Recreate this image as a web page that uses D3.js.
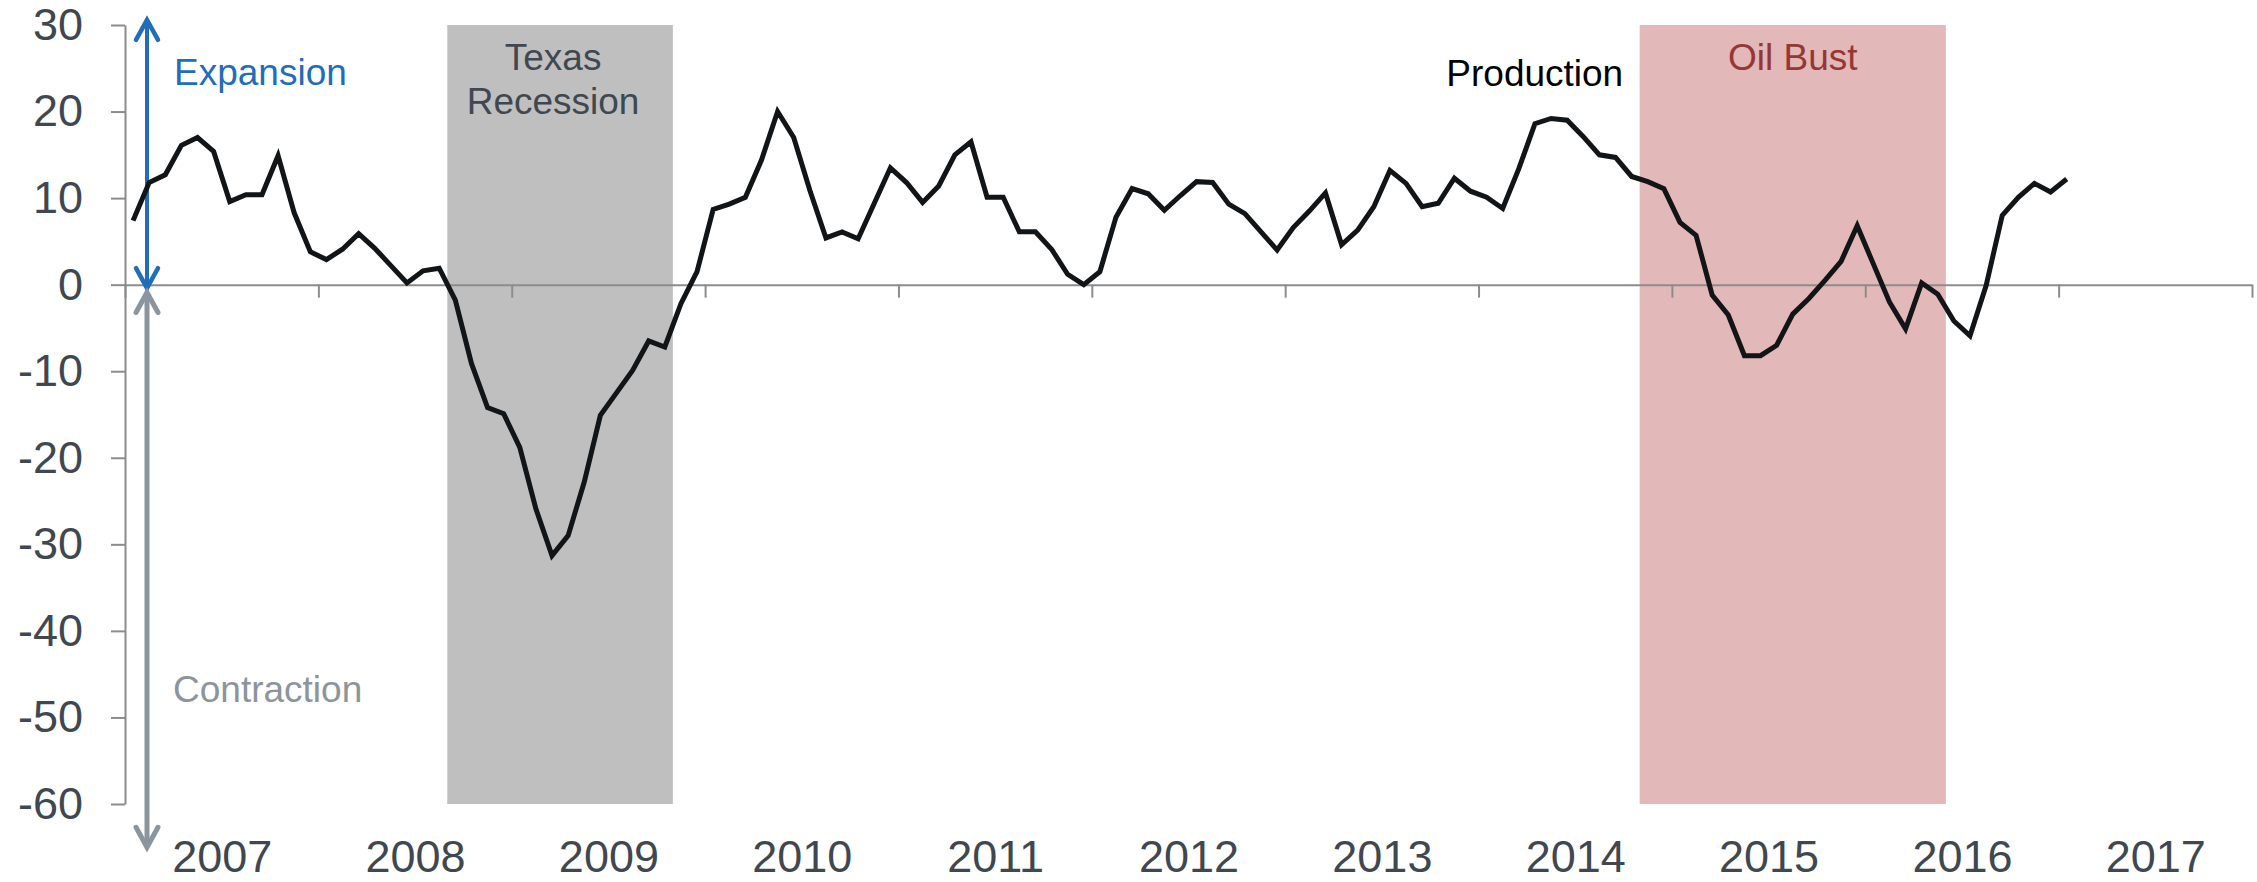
<!DOCTYPE html>
<html>
<head>
<meta charset="utf-8">
<script src="https://d3js.org/d3.v7.min.js"></script>
<style>
  body { margin: 0; background: #fff; }
  svg { display: block; font-family: "Liberation Sans", Arial, sans-serif; }
</style>
</head>
<body>
<div id="chart-container"></div>
<script>
const width = 2257;
const height = 882;
const margin = { top: 25, left: 125, right: 5, bottom: 78 };

// monthly values, Jan 2007 .. Jan 2017
const production = [
  7.4, 11.8, 12.7, 16.1, 17.0, 15.4, 9.6, 10.4, 10.4, 14.9, 8.3, 3.8,
  2.9, 4.1, 5.9, 4.2, 2.2, 0.2, 1.6, 1.9, -1.8, -9.1, -14.2, -14.9,
  -18.8, -25.9, -31.3, -29.0, -22.8, -15.1, -12.5, -9.9, -6.5, -7.2, -2.2, 1.5,
  8.7, 9.3, 10.1, 14.4, 20.0, 17.0, 10.9, 5.4, 6.1, 5.3, 9.4, 13.5,
  11.8, 9.5, 11.4, 15.0, 16.5, 10.1, 10.1, 6.1, 6.1, 4.1, 1.2, 0.0,
  1.5, 7.8, 11.1, 10.5, 8.6, 10.3, 11.9, 11.8, 9.3, 8.2, 6.1, 4.0,
  6.6, 8.5, 10.6, 4.6, 6.3, 9.0, 13.2, 11.7, 9.0, 9.4, 12.3, 10.8,
  10.1, 8.8, 13.4, 18.6, 19.2, 19.0, 17.1, 15.0, 14.7, 12.5, 11.9, 11.1,
  7.2, 5.7, -1.2, -3.5, -8.2, -8.2, -7.0, -3.4, -1.6, 0.5, 2.7, 6.8,
  2.4, -2.0, -5.1, 0.2, -1.1, -4.2, -5.9, -0.1, 8.0, 10.1, 11.7, 10.7,
  12.2
];
const years = [2007, 2008, 2009, 2010, 2011, 2012, 2013, 2014, 2015, 2016, 2017];
const yTicks = [30, 20, 10, 0, -10, -20, -30, -40, -50, -60];

// shaded periods, in months since Jan 2007
const periodNames = [["Texas", "Recession"], ["Oil Bust"]];
const periodStart = [20, 94];
const periodEnd = [34, 113];
const periodFill = ["#bfbfbf", "#e2b8b8"];
const periodText = ["#3f4850", "#953735"];

const data = production.map((v, i) => ({ m: i + 0.5, v: v }));

const svg = d3.select("#chart-container").append("svg")
  .attr("width", width)
  .attr("height", height);

const x = d3.scaleLinear()
  .domain([0, years.length * 12])
  .range([margin.left, width - margin.right]);

const y = d3.scaleLinear()
  .domain([-60, 30])
  .range([height - margin.bottom, margin.top]);

// shaded boxes
let gShade = svg.append("g");
gShade.selectAll("rect")
  .data(periodStart)
  .enter().append("rect")
  .attr("x", d => x(d))
  .attr("y", y(30))
  .attr("width", (d, i) => x(periodEnd[i]) - x(d))
  .attr("height", y(-60) - y(30))
  .attr("fill", (d, i) => periodFill[i]);

gShade.selectAll("text")
  .data(periodNames)
  .enter().append("text")
  .attr("text-anchor", "middle")
  .attr("fill", (d, i) => periodText[i])
  .style("font-size", "37px")
  .each(function (lines, i) {
    const cx = (x(periodStart[i]) + x(periodEnd[i])) / 2 - (lines.length > 1 ? 7 : 0);
    d3.select(this).selectAll("tspan")
      .data(lines)
      .enter().append("tspan")
      .attr("x", cx)
      .attr("y", (d, j) => 70 + j * 44)
      .text(d => d);
  });

// y axis, plain hyphen for negatives
const yAxis = svg.append("g")
  .attr("transform", `translate(${margin.left},0)`)
  .call(d3.axisLeft(y).tickValues(yTicks).tickSize(14).tickSizeOuter(0).tickPadding(28)
    .tickFormat(d => String(d)));
yAxis.selectAll("text")
  .style("font-size", "45px")
  .attr("fill", "#3f4850");

// zero line with year ticks
const xAxis = svg.append("g")
  .attr("transform", `translate(0,${y(0)})`)
  .call(d3.axisBottom(x)
    .tickValues(d3.range(0, years.length * 12 + 1, 12))
    .tickSize(13).tickSizeOuter(0).tickFormat(""));

// year labels centred in each year
const xLabels = svg.append("g")
  .attr("transform", `translate(0,840)`)
  .call(d3.axisBottom(x)
    .tickValues(years.map((d, i) => i * 12 + 6))
    .tickSize(0).tickPadding(0)
    .tickFormat((d, i) => years[i]));
xLabels.select(".domain").remove();
xLabels.selectAll("text")
  .style("font-size", "45px")
  .attr("fill", "#3f4850");

svg.selectAll(".domain, .tick line")
  .attr("stroke", "#8c8c8c")
  .attr("stroke-width", 2);

// expansion / contraction arrows
const ax = margin.left + 22;
const chevron = (tipY, dir) => `M${ax - 11},${tipY + dir * 20} L${ax},${tipY} L${ax + 11},${tipY + dir * 20}`;

let gArrow = svg.append("g").attr("fill", "none").attr("stroke-linecap", "round");
gArrow.append("line")
  .attr("x1", ax).attr("x2", ax)
  .attr("y1", y(30.6) + 2).attr("y2", y(-0.4) - 2)
  .attr("stroke", "#1f6dbd").attr("stroke-width", 4);
gArrow.append("path").attr("d", chevron(y(30.6), 1))
  .attr("stroke", "#1f6dbd").attr("stroke-width", 4.5);
gArrow.append("path").attr("d", chevron(y(-0.4), -1))
  .attr("stroke", "#1f6dbd").attr("stroke-width", 4.5);

gArrow.append("line")
  .attr("x1", ax).attr("x2", ax)
  .attr("y1", y(-0.9) + 2).attr("y2", y(-65) - 2)
  .attr("stroke", "#8b959d").attr("stroke-width", 5);
gArrow.append("path").attr("d", chevron(y(-0.9), 1))
  .attr("stroke", "#8b959d").attr("stroke-width", 5);
gArrow.append("path").attr("d", chevron(y(-65), -1))
  .attr("stroke", "#8b959d").attr("stroke-width", 5);

svg.append("text")
  .attr("x", ax + 27).attr("y", 85)
  .attr("fill", "#1f6dbd")
  .style("font-size", "37px")
  .text("Expansion");

svg.append("text")
  .attr("x", ax + 26).attr("y", 702)
  .attr("fill", "#8b959d")
  .style("font-size", "37px")
  .text("Contraction");

// production line
const line = d3.line()
  .x(d => x(d.m))
  .y(d => y(d.v));

svg.append("path")
  .datum(data)
  .attr("fill", "none")
  .attr("stroke", "#121517")
  .attr("stroke-width", 5)
  .attr("stroke-linejoin", "miter")
  .attr("d", line);

svg.append("text")
  .attr("x", x(82))
  .attr("y", 86)
  .attr("fill", "#000")
  .style("font-size", "37px")
  .text("Production");
</script>
</body>
</html>
